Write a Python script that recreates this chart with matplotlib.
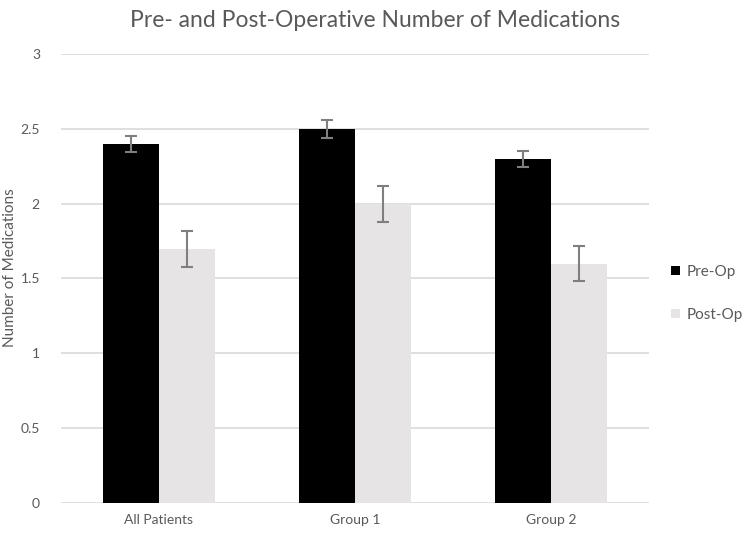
import matplotlib
matplotlib.use("Agg")
import matplotlib.pyplot as plt
import numpy as np

categories = ["All Patients", "Group 1", "Group 2"]
pre_op = [2.4, 2.5, 2.3]
post_op = [1.7, 2.0, 1.6]
pre_err = [0.055, 0.06, 0.055]
post_err = [0.12, 0.12, 0.12]
yticks = [0, 0.5, 1, 1.5, 2, 2.5, 3]
ytick_labels = ["0", "0.5", "1", "1.5", "2", "2.5", "3"]

plt.rcParams['font.family'] = ['Lato', 'DejaVu Sans']
txt = "#595959"

fig = plt.figure(figsize=(7.5, 5.35), dpi=100)
ax = fig.add_axes([0.081, 0.0598, 0.784, 0.8393])

x = np.arange(len(categories))
w = 0.286
ax.bar(x - w/2, pre_op, w, color="black", label="Pre-Op", zorder=3)
ax.bar(x + w/2, post_op, w, color="#e6e4e5", label="Post-Op", zorder=3)
ekw = dict(fmt="none", ecolor="#7f7f7f", elinewidth=1.5, capsize=4.5, capthick=1.5, zorder=4)
ax.errorbar(x - w/2, pre_op, yerr=pre_err, **ekw)
ax.errorbar(x + w/2, post_op, yerr=post_err, **ekw)

ax.set_xlim(-0.5, 2.5)
ax.set_ylim(0, 3)
ax.set_yticks(yticks)
ax.set_yticklabels(ytick_labels)
ax.set_xticks(x)
ax.set_xticklabels(categories)
ax.yaxis.grid(True, color="#d9d9d9", linewidth=1.2, zorder=0)
ax.set_axisbelow(True)
for s in ax.spines.values():
    s.set_visible(False)
ax.tick_params(axis="both", length=0, colors=txt, labelsize=10)
ax.tick_params(axis="y", pad=15)
ax.tick_params(axis="x", pad=8)
fig.text(0.014, 0.5, "Number of Medications", rotation=90, ha="center", va="center",
         color=txt, fontsize=11)
fig.text(0.5, 0.962, "Pre- and Post-Operative Number of Medications", ha="center",
         va="center", fontsize=16.5, color=txt)

leg = ax.legend(loc="center left", bbox_to_anchor=(1.015, 0.467), frameon=False,
                fontsize=11, handlelength=0.6, handleheight=0.6, labelspacing=1.9,
                handletextpad=0.4)
for t in leg.get_texts():
    t.set_color(txt)

fig.savefig("out.png", dpi=100)
